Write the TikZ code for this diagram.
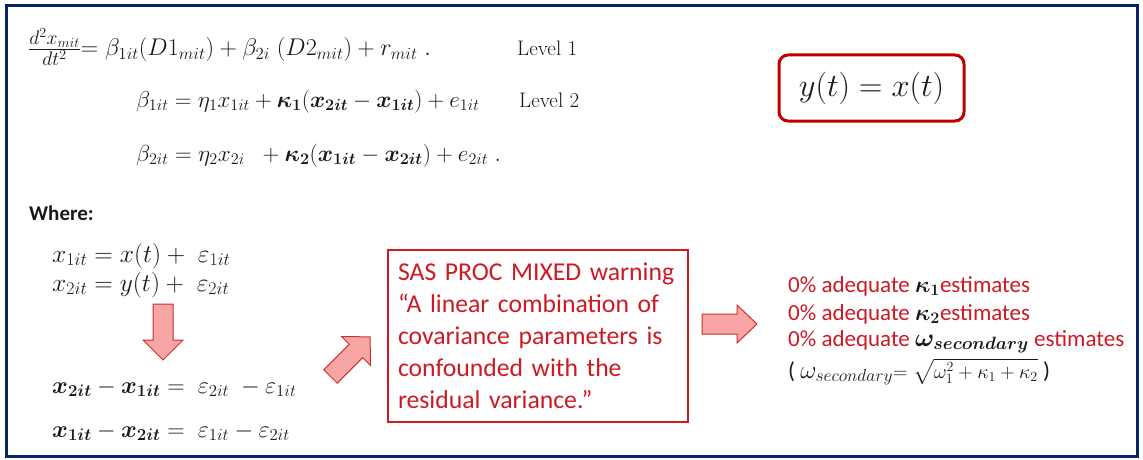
\RequirePackage{fix-cm}
\documentclass[tikz,border=0pt]{standalone}
\usepackage{fontspec}
\usepackage{amsmath}
\usepackage{bm}
\newfontfamily\calibri{Carlito}
\definecolor{navy}{RGB}{10,35,100}
\definecolor{boxred}{RGB}{192,0,0}
\definecolor{warn}{RGB}{205,25,35}
\definecolor{arrowfill}{RGB}{248,165,165}
\definecolor{arrowline}{RGB}{210,45,45}
\definecolor{ink}{RGB}{25,25,25}
\tikzset{
  eqn/.style={anchor=base west, inner sep=0pt, text=ink, font=\fontsize{24}{28}\selectfont},
  lvl/.style={anchor=base west, inner sep=0pt, text=ink, font=\fontsize{21}{25}\selectfont},
  body/.style={anchor=base west, inner sep=0pt, font=\calibri\fontsize{23}{28}\selectfont},
  blockarrow/.style={fill=arrowfill, draw=arrowline, line width=1pt, line join=miter},
}
\begin{document}
\begin{tikzpicture}[x=1pt,y=-1pt]
\useasboundingbox (0,0) rectangle (1143,460);
% outer frame
\draw[navy, line width=2.6pt] (6.5,5.5) rectangle (1137.5,456.5);

% model equations
\node[eqn, font=\fontsize{24.2}{28}\selectfont] (eqA) at (28,56)
  {{\fontsize{28}{30}\selectfont$\frac{d^2x_{mit}}{dt^2}$}$=\beta_{1it}(D1_{mit})+\beta_{2i}\;(D2_{mit})+r_{mit}\;.$};
\node[lvl] (lvA) at (517,56) {Level 1};
\node[eqn, font=\fontsize{23.1}{28}\selectfont] (eqB) at (136,107)
  {$\beta_{1it}=\eta_1x_{1it}+\bm{\kappa_1}(\bm{x_{2it}}-\bm{x_{1it}})+e_{1it}$};
\node[lvl] (lvB) at (519,107) {Level 2};
\node[eqn, font=\fontsize{23.2}{28}\selectfont] (eqC) at (136,161)
  {$\beta_{2it}=\eta_2x_{2i}\;\;+\bm{\kappa_2}(\bm{x_{1it}}-\bm{x_{2it}})+e_{2it}\;.$};

% identity box
\node[draw=boxred, line width=3pt, rounded corners=9pt, minimum width=185pt, minimum height=66pt,
      text=ink, font=\fontsize{32.5}{36}\selectfont] (ident) at (871.5,88) {$y(t)=x(t)$};

% definitions
\node[body, text=ink, font=\calibri\bfseries\fontsize{21}{26}\selectfont] (where) at (29,220.5) {Where:};
\node[eqn, font=\fontsize{25.5}{28}\selectfont] (defA) at (52,262) {$x_{1it}=x(t)+\;\varepsilon_{1it}$};
\node[eqn, font=\fontsize{25.5}{28}\selectfont] (defB) at (52,291) {$x_{2it}=y(t)+\;\varepsilon_{2it}$};
\node[eqn] (difA) at (52,393) {$\bm{x_{2it}}-\bm{x_{1it}}=\;\varepsilon_{2it}\;-\varepsilon_{1it}$};
\node[eqn] (difB) at (52,437) {$\bm{x_{1it}}-\bm{x_{2it}}=\;\varepsilon_{1it}-\varepsilon_{2it}$};

% block arrows
\draw[blockarrow] (153,304) -- (173,304) -- (173,340) -- (183,340) -- (163,360)
  -- (143,340) -- (153,340) -- cycle;
\draw[blockarrow] (337.2,383.2) -- (362.7,357.7) -- (370.5,365.5) -- (370.1,336.9)
  -- (341.5,336.5) -- (349.3,344.3) -- (323.8,369.8) -- cycle;
\draw[blockarrow] (702,314) -- (737,314) -- (737,305) -- (757,324) -- (737,343)
  -- (737,334) -- (702,334) -- cycle;

% warning box
\node[draw=warn, line width=1.3pt, minimum width=300pt, minimum height=172pt,
      inner xsep=10pt, text=warn, text width=280pt, align=left,
      font=\calibri\fontsize{25.7}{32}\selectfont] (warnbox) at (538,336)
  {SAS PROC MIXED warning\\“A linear combination of\\covariance parameters is\\confounded with the\\residual variance.”};

% outcomes
\node[body, text=warn] (resA) at (788,292) {0\% adequate {\color{ink}$\bm{\kappa_1}$}estimates};
\node[body, text=warn] (resB) at (788,320) {0\% adequate {\color{ink}$\bm{\kappa_2}$}estimates};
\node[body, text=warn] (resC) at (788,346) {0\% adequate {\color{ink}\fontsize{25.5}{28}\selectfont$\bm{\omega_{secondary}}$} estimates};
\node[body, text=ink] (resD) at (788,378) {( {\fontsize{25}{28}\selectfont$\omega_{secondary}$}{\fontsize{20}{22}\selectfont$=\sqrt{\omega_1^2+\kappa_1+\kappa_2}$} )};
\end{tikzpicture}
\end{document}
